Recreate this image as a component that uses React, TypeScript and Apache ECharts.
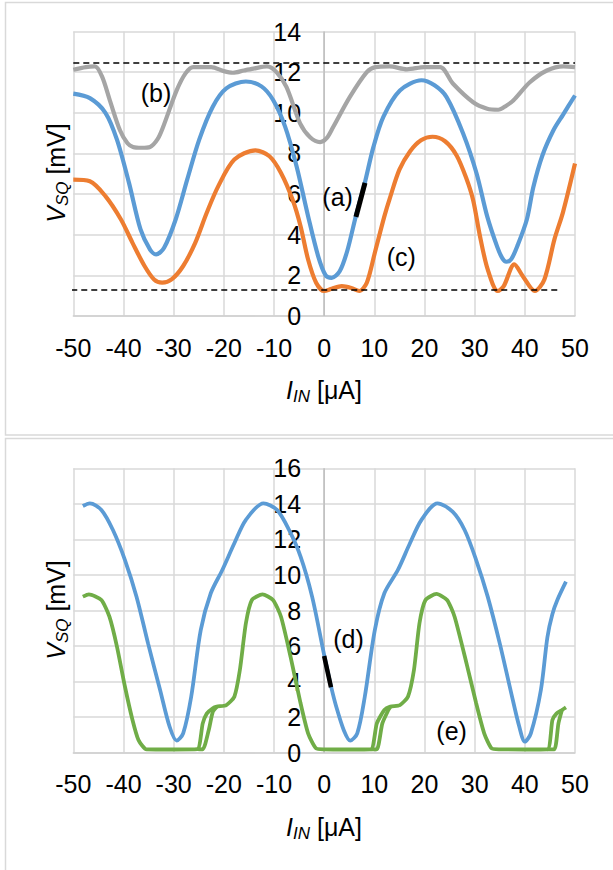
import React, { useEffect, useRef } from "react";
import * as echarts from "echarts";

// ---------- top panel data ----------
const topBlueA: number[][] = [
  [-50, 10.94], [-46.7, 10.72], [-43.6, 10.0], [-41.3, 8.68], [-38.9, 6.55], [-36.6, 4.26],
  [-34.7, 3.27], [-33.5, 3.03], [-31.9, 3.36], [-29.6, 4.75], [-27.3, 6.71], [-24.9, 8.68],
  [-22.2, 10.3], [-19.5, 11.2], [-15.6, 11.54], [-12.5, 11.3], [-10.2, 10.64], [-7.8, 9.33],
  [-5.5, 7.37], [-3.2, 4.91], [-1.2, 2.95], [0.3, 2.0], [1.5, 1.88], [3.1, 2.2], [4.6, 3.2],
  [6.3, 4.9], [8.1, 6.55], [9.8, 8.3], [11.8, 9.8], [15.1, 11.1], [19.4, 11.6], [22.0, 11.35],
  [24.4, 10.77], [27.7, 8.98], [30.4, 7.0], [32.5, 4.9], [34.5, 3.4], [35.5, 2.85], [36.3, 2.67],
  [37.3, 2.8], [38.6, 3.5], [40.4, 4.75], [41.7, 6.35], [43.5, 7.9], [45.7, 9.14], [47.6, 9.9],
  [50, 10.85],
];
const topGrayB: number[][] = [
  [-50, 12.12], [-47.5, 12.25], [-45.7, 12.28], [-44.3, 11.8], [-42.7, 10.6], [-40.7, 9.14],
  [-39.2, 8.5], [-38.1, 8.32], [-36.4, 8.28], [-34.7, 8.32], [-33.2, 8.7], [-32.1, 9.3],
  [-29.4, 11.1], [-27.6, 11.95], [-26.1, 12.25], [-22.5, 12.25], [-20, 12.05], [-18.2, 11.97],
  [-16, 12.08], [-14.1, 12.17], [-11.4, 12.28], [-9.5, 12.0], [-7.5, 11.26], [-4.8, 9.48],
  [-2.8, 8.8], [-0.8, 8.56], [0.5, 8.75], [1.8, 9.3], [5.1, 10.77], [8.5, 12.0], [10.2, 12.25],
  [13, 12.28], [16.5, 12.14], [20, 12.25], [23.1, 12.25], [25.7, 11.43], [29.7, 10.52],
  [32.5, 10.2], [34.7, 10.15], [36.3, 10.35], [37.7, 10.6], [41.0, 11.5], [44.4, 12.08],
  [47.7, 12.28], [50, 12.25],
];
const topOrangeC: number[][] = [
  [-50, 6.71], [-46.7, 6.63], [-43.6, 5.9], [-40.5, 4.75], [-38.2, 3.6], [-35.8, 2.46],
  [-33.9, 1.8], [-32.3, 1.64], [-30.4, 1.8], [-28.1, 2.46], [-25.7, 3.6], [-23.4, 5.08],
  [-21.1, 6.39], [-17.9, 7.7], [-13.7, 8.15], [-10.9, 7.86], [-8.6, 7.04], [-6.3, 5.73],
  [-4.7, 4.42], [-3.2, 2.78], [-1.6, 1.64], [0, 1.23], [1.5, 1.34], [3.5, 1.47], [5.4, 1.38],
  [7.0, 1.23], [8.5, 1.64], [10.1, 3.11], [12.0, 4.9], [13.1, 5.8], [15, 7.2], [17.1, 8.1],
  [19.3, 8.65], [21.6, 8.82], [24.1, 8.6], [26.4, 7.9], [28.3, 6.8], [29.7, 5.7], [31, 4.0],
  [32.6, 2.29], [34.6, 1.23], [35.8, 1.47], [37.9, 2.54], [39.6, 1.96], [42.0, 1.23],
  [43.9, 1.8], [45.9, 3.77], [47.6, 5.1], [50, 7.5],
];
const topBlackA: number[][] = [[6.34, 4.88], [8.14, 6.55]];
const topDashHigh: number[][] = [[-50, 12.45], [50, 12.45]];
const topDashLow: number[][] = [[-52.4, 1.28], [47.2, 1.28]];
const topZeroAxis: number[][] = [[0, 0], [0, 14]];

// ---------- bottom panel data ----------
const botBlueD: number[][] = [
  [-48.1, 13.88], [-46.7, 14.03], [-44.4, 13.66], [-42.1, 12.53], [-39.7, 10.84], [-37.4, 8.78],
  [-35.1, 6.15], [-32.7, 3.53], [-30.8, 1.46], [-29.4, 0.68], [-28.1, 1.09], [-26.5, 3.15],
  [-24.6, 6.9], [-22.6, 8.97], [-20.3, 10.28], [-17.9, 11.78], [-15.6, 13.1], [-12.1, 14.03],
  [-9.4, 13.66], [-7.0, 12.53], [-4.7, 11.03], [-2.4, 8.78], [0, 5.5], [1.4, 3.7], [2.4, 2.6],
  [3.9, 1.28], [5.2, 0.68], [6.6, 1.09], [8.1, 3.15], [10.1, 6.9], [12.0, 8.97], [14.7, 10.28],
  [17.1, 11.78], [19.4, 13.1], [22.6, 14.03], [25.6, 13.56], [28.0, 12.53], [30.3, 10.84],
  [32.6, 8.78], [35.0, 6.15], [37.3, 3.34], [38.9, 1.46], [40.0, 0.62], [41.2, 1.09],
  [43.2, 3.53], [44.5, 6.5], [45.5, 7.8], [46.5, 8.6], [48.2, 9.62],
];
const botGreenE: number[][] = [
  [-48.1, 8.78], [-46.9, 8.91], [-44.4, 8.59], [-42.8, 7.65], [-41.3, 5.97], [-39.7, 3.71],
  [-38.2, 1.84], [-37.0, 0.71], [-35.4, 0.19], [-30, 0.18], [-25.3, 0.2], [-24.2, 1.65],
  [-23.4, 2.2], [-22.2, 2.5], [-21.4, 2.59], [-19.5, 2.68], [-17.9, 3.15], [-16.8, 4.65],
  [-15.6, 7.28], [-14.4, 8.59], [-12.3, 8.91], [-10.2, 8.59], [-8.6, 7.65], [-6.7, 5.4],
  [-4.7, 2.78], [-3.2, 1.09], [-1.6, 0.24], [0, 0.19], [5, 0.18], [9.3, 0.19], [10.5, 1.65],
  [12.0, 2.4], [13.2, 2.59], [15.1, 2.68], [16.7, 3.15], [17.9, 4.65], [19.0, 7.28],
  [20.2, 8.59], [22.4, 8.93], [24.5, 8.59], [26.0, 7.65], [28.4, 5.0], [30.3, 2.78],
  [31.9, 1.09], [33.4, 0.24], [35, 0.19], [40, 0.18], [44.5, 0.19], [45.5, 1.84],
  [46.3, 2.2], [47.4, 2.4], [48.2, 2.55],
];
const botGreenReturn: (number[] | null)[] = [
  [-25.3, 0.2], [-24.2, 0.19], [-23.0, 1.28], [-22.2, 2.3], [-21.4, 2.59], null,
  [9.3, 0.19], [10.5, 0.19], [11.6, 1.65], [12.8, 2.4], [13.2, 2.59], null,
  [44.5, 0.19], [45.9, 0.19], [46.7, 1.65], [47.4, 2.4],
];
const botBlackD: number[][] = [[0, 5.44], [1.36, 3.68]];
const botZeroAxis: number[][] = [[0, 0], [0, 16]];

const FONT = "'Liberation Sans', Arial, sans-serif";
const GRID_C = "#d9d9d9";
const PLOT_LEFT = 73.3;
const PLOT_W = 501.7;
// y labels sit next to the x = 0 line, right edge ~23 px left of it
const Y_LABEL_MARGIN = -(PLOT_W / 2) + 23;

function makeX(gridIndex: number) {
  return {
    type: "value", gridIndex, min: -50, max: 50, interval: 10,
    axisLine: { show: true, onZero: false, lineStyle: { color: "#d0d0d0", width: 1.5 } },
    axisTick: { show: false },
    splitLine: { show: true, lineStyle: { color: GRID_C, width: 1.5 } },
    axisLabel: { fontSize: 25, fontFamily: FONT, color: "#000", margin: 19 },
  };
}
function makeY(gridIndex: number, max: number) {
  return {
    type: "value", gridIndex, min: 0, max, interval: 2,
    axisLine: { show: false, onZero: false },
    axisTick: { show: false },
    splitLine: { show: true, lineStyle: { color: GRID_C, width: 1.5 } },
    axisLabel: { fontSize: 25, fontFamily: FONT, color: "#000", margin: Y_LABEL_MARGIN },
  };
}
function line(data: any[], color: string, width: number, xi: number, extra: any = {}) {
  return {
    type: "line", data, xAxisIndex: xi, yAxisIndex: xi, showSymbol: false, symbol: "none",
    smooth: 0.3, lineStyle: { color, width }, itemStyle: { color }, emphasis: { disabled: true },
    silent: true, ...extra,
  };
}

const richTitle = {
  n: { fontSize: 25, fontFamily: FONT, fill: "#000", lineHeight: 30 },
  i: { fontSize: 25, fontFamily: FONT, fontStyle: "italic", fill: "#000", lineHeight: 30 },
  s: { fontSize: 17, fontFamily: FONT, fontStyle: "italic", fill: "#000", lineHeight: 17, verticalAlign: "bottom" },
};

function label(text: string, x: number, y: number) {
  return {
    type: "text", x, y, z: 100,
    style: { text, fontSize: 25, fontFamily: FONT, fill: "#000", align: "center", verticalAlign: "middle" },
  };
}
function title(text: string, x: number, y: number, rotation = 0) {
  return {
    type: "text", x, y, rotation,
    style: { text, rich: richTitle, align: "center", verticalAlign: "middle", fontSize: 25, fontFamily: FONT, fill: "#000" },
  };
}

export default function App() {
  const ref = useRef<HTMLDivElement>(null);
  useEffect(() => {
    const chart = echarts.init(ref.current!, null, { renderer: "svg" });
    chart.setOption({
      animation: false,
      backgroundColor: "#fff",
      grid: [
        { left: PLOT_LEFT, top: 31.5, width: PLOT_W, height: 284.5 },
        { left: PLOT_LEFT, top: 468.3, width: PLOT_W, height: 284.4 },
      ],
      xAxis: [makeX(0), makeX(1)],
      yAxis: [makeY(0, 14), makeY(1, 16)],
      series: [
        line(topZeroAxis, "#bfbfbf", 1.5, 0, { smooth: false }),
        line(topBlueA, "#5B9BD5", 4.2, 0),
        line(topOrangeC, "#ED7D31", 4.2, 0),
        line(topGrayB, "#A5A5A5", 4.2, 0),
        line(topBlackA, "#000", 5, 0, { smooth: false }),
        line(topDashHigh, "#000", 1.5, 0, { smooth: false, lineStyle: { color: "#000", width: 1.5, type: [6, 4] } }),
        line(topDashLow, "#000", 1.5, 0, { smooth: false, clip: false, lineStyle: { color: "#000", width: 1.5, type: [6, 4] } }),
        line(botZeroAxis, "#bfbfbf", 1.5, 1, { smooth: false }),
        line(botBlueD, "#5B9BD5", 3.8, 1),
        line(botGreenE, "#70AD47", 3.8, 1, { smooth: 0.2 }),
        line(botGreenReturn, "#70AD47", 3.8, 1, { smooth: 0.2, connectNulls: false }),
        line(botBlackD, "#000", 4.5, 1, { smooth: false }),
      ],
      graphic: [
        { type: "rect", shape: { x: 5.5, y: 2.5, width: 700, height: 432.5 }, style: { fill: "none", stroke: "#d9d9d9", lineWidth: 1.5 }, z: -1 },
        { type: "rect", shape: { x: 5.5, y: 438.5, width: 700, height: 500 }, style: { fill: "none", stroke: "#d9d9d9", lineWidth: 1.5 }, z: -1 },
        label("(b)", 156, 93),
        label("(a)", 337.6, 197),
        label("(c)", 401.3, 257),
        label("(d)", 348.5, 639),
        label("(e)", 451.6, 731),
        title("{i|I}{s|IN}{n| [μA]}", 324, 390),
        title("{i|I}{s|IN}{n| [μA]}", 324, 827),
        title("{i|V}{s|SQ}{n| [mV]}", 56, 173, Math.PI / 2),
        title("{i|V}{s|SQ}{n| [mV]}", 56, 610, Math.PI / 2),
      ],
    });
    return () => chart.dispose();
  }, []);
  return <div ref={ref} style={{ position: "fixed", left: 0, top: 0, width: 613, height: 870, background: "#fff" }} />;
}
